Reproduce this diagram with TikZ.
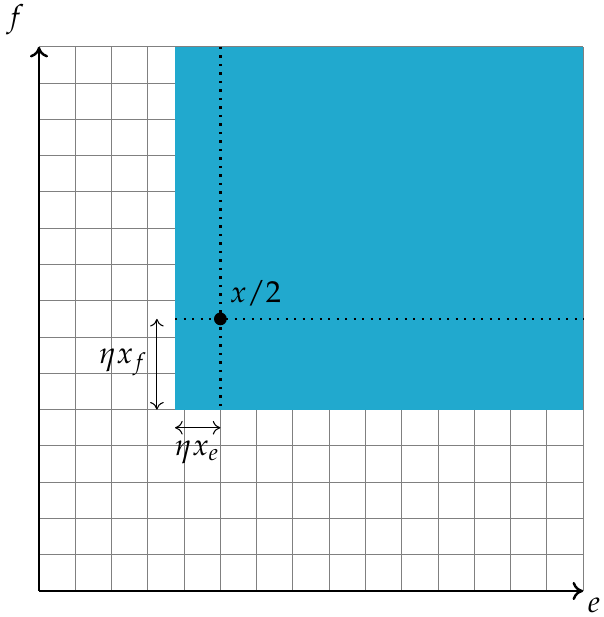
\documentclass[tikz,border=0pt]{standalone}
\usepackage{amsmath}
\usepackage{mathpazo}
\usepackage{xcolor}
\usepackage{tikz}
\usetikzlibrary{positioning, arrows.meta}

\definecolor{regionblue}{RGB}{33,169,206}

\begin{document}
\begin{tikzpicture}[x=0.42cm, y=0.42cm,
        gridline/.style={gray, line width=0.35pt},
        axis/.style={->, line width=0.8pt, >={To[length=3.5pt,width=6pt]}},
        guide/.style={line width=0.9pt, dash pattern=on 0.8pt off 2pt},
        span/.style={<->, line width=0.35pt, >={To[length=2.5pt,width=4.5pt]}}
    ]
        \useasboundingbox (-1.075,-0.717) rectangle (15.55,16.29);
        % grid and region
        \draw[gridline, step={(1,1)}] (0,0) grid (15,15);
        \fill[regionblue] (3.75,5) rectangle (15,15);
        \coordinate (O) at (0,0);
        \coordinate (E) at (15,0);
        \coordinate (F) at (0,15);
        \draw[axis] (O) -- (E);
        \draw[axis] (O) -- (F);
        \node[inner sep=0pt] (elabel) at (15.3,-0.4) {$e$};
        \node (flabel) at (-0.66,15.74) {$f$};
        % point x/2 and its guides
        \coordinate (top) at (5,15);
        \coordinate (bot) at (5,5);
        \coordinate (left) at (3.75,7.5);
        \coordinate (right) at (15,7.5);
        \draw[guide] (top) -- (bot);
        \draw[guide] (left) -- (right);
        \node[circle, fill=black, inner sep=0pt, minimum size=4.2pt] (half) at (5,7.5) {};
        \node[above right=-1pt and -2pt of half] (halflabel) {$x/2$};
        % eta offsets
        \coordinate (fa) at (3.25,5);
        \coordinate (fb) at (3.25,7.5);
        \coordinate (ea) at (3.75,4.5);
        \coordinate (eb) at (5,4.5);
        \draw[span] (fa) -- (fb);
        \draw[span] (ea) -- (eb);
        \node (etaf) at (2.32,6.31) {$\eta x_f$};
        \node (etae) at (4.36,3.82) {$\eta x_e$};
    \end{tikzpicture}
\end{document}
